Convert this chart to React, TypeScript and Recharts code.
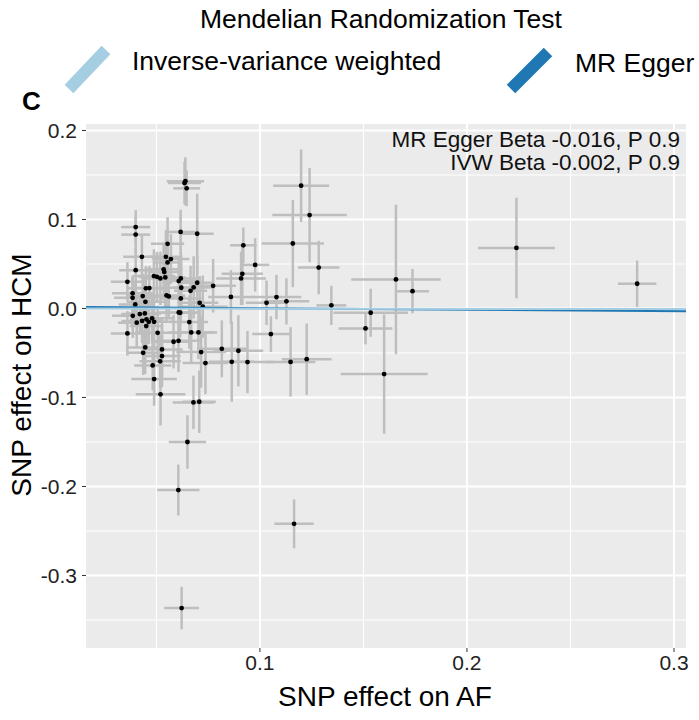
import React from "react";
import {
  ScatterChart,
  Scatter,
  XAxis,
  YAxis,
  CartesianGrid,
  ErrorBar,
} from "recharts";

// SNP effect on AF (exposure)
const betaAF = [
  0.064, 0.0636, 0.0646, 0.04, 0.04, 0.0617, 0.0697, 0.092, 0.0554, 0.043,
  0.0546, 0.057, 0.0554, 0.0977, 0.04, 0.0535, 0.0538, 0.0915, 0.0909, 0.0488,
  0.0503, 0.0519, 0.0543, 0.0618, 0.0608, 0.036, 0.0697, 0.0774, 0.0449, 0.0466,
  0.062, 0.068, 0.0665, 0.0385, 0.0385, 0.0434, 0.0549, 0.056, 0.086, 0.108,
  0.0618, 0.0447, 0.0398, 0.0709, 0.0724, 0.1032, 0.1128, 0.1345, 0.1199, 0.124,
  0.1159, 0.1284, 0.1657, 0.1737, 0.2239, 0.2822, 0.1535, 0.151, 0.16, 0.1053,
  0.1148, 0.1226, 0.0386, 0.042, 0.0444, 0.0405, 0.0431, 0.0452, 0.0463, 0.0479,
  0.0489, 0.0451, 0.0608, 0.0615, 0.0506, 0.036, 0.0659, 0.0668, 0.0703, 0.0583,
  0.0607, 0.0446, 0.0436, 0.0527, 0.0527, 0.0518, 0.0482, 0.0716, 0.0737, 0.0816,
  0.0896, 0.0864, 0.094, 0.0489, 0.052, 0.0679, 0.0707, 0.065, 0.0606, 0.1165,
  0.0622,
];

// SNP effect on HCM (outcome)
const betaHCM = [
  0.143, 0.141, 0.135, 0.0915, 0.083, 0.086, 0.084, 0.071, 0.0727, 0.058,
  0.058, 0.0555, 0.0518, 0.049, 0.043, 0.044, 0.041, 0.039, 0.0338, 0.0364,
  0.0356, 0.0338, 0.0349, 0.0338, 0.0308, 0.03, 0.0289, 0.0255, 0.0226, 0.0229,
  0.0233, 0.0237, 0.0199, 0.017, 0.012, 0.0139, 0.0147, 0.0136, 0.013, 0.0128,
  0.0113, 0.0075, 0.0046, 0.0064, 0.002, 0.0064, 0.008, 0.0035, 0.138, 0.105,
  0.073, 0.046, 0.0327, 0.0195, 0.068, 0.0278, -0.0048, -0.0224, -0.0737, -0.0288,
  -0.06, -0.057, -0.0082, -0.0063, -0.0055, -0.016, -0.014, -0.0122, -0.015, -0.0111,
  -0.015, -0.0198, -0.0044, -0.0048, -0.0273, -0.028, -0.0153, -0.0269, -0.0269, -0.0374,
  -0.0363, -0.0437, -0.0498, -0.046, -0.0535, -0.0594, -0.064, -0.049, -0.0613, -0.0453,
  -0.0475, -0.0599, -0.0602, -0.0793, -0.0965, -0.1055, -0.1048, -0.15, -0.204, -0.242,
  -0.3366,
];

const seAF = [
  0.009, 0.008, 0.0065, 0.007, 0.007, 0.007, 0.008, 0.0064, 0.008, 0.009,
  0.008, 0.009, 0.007, 0.0068, 0.008, 0.009, 0.008, 0.01, 0.012, 0.01,
  0.009, 0.008, 0.01, 0.009, 0.008, 0.008, 0.008, 0.011, 0.009, 0.008,
  0.009, 0.01, 0.008, 0.01, 0.009, 0.008, 0.009, 0.008, 0.011, 0.012,
  0.01, 0.009, 0.008, 0.009, 0.012, 0.01, 0.011, 0.0072, 0.0135, 0.018,
  0.015, 0.01, 0.0216, 0.008, 0.0186, 0.0093, 0.018, 0.013, 0.021, 0.009,
  0.012, 0.012, 0.01, 0.009, 0.008, 0.009, 0.01, 0.008, 0.009, 0.01,
  0.009, 0.008, 0.01, 0.009, 0.011, 0.008, 0.009, 0.011, 0.009, 0.009,
  0.011, 0.009, 0.008, 0.01, 0.009, 0.01, 0.009, 0.012, 0.011, 0.012,
  0.012, 0.011, 0.013, 0.011, 0.012, 0.01, 0.008, 0.009, 0.0102, 0.0095,
  0.0084,
];

const seHCM = [
  0.027, 0.024, 0.02, 0.019, 0.02, 0.025, 0.045, 0.02, 0.03, 0.025,
  0.03, 0.028, 0.025, 0.03, 0.025, 0.03, 0.025, 0.035, 0.03, 0.03,
  0.028, 0.03, 0.035, 0.03, 0.025, 0.022, 0.03, 0.03, 0.025, 0.025,
  0.03, 0.035, 0.028, 0.02, 0.022, 0.025, 0.03, 0.025, 0.03, 0.025,
  0.028, 0.03, 0.025, 0.03, 0.035, 0.025, 0.026, 0.022, 0.0407, 0.053,
  0.049, 0.03, 0.084, 0.025, 0.0565, 0.026, 0.027, 0.018, 0.067, 0.02,
  0.039, 0.04, 0.025, 0.022, 0.025, 0.028, 0.025, 0.03, 0.025, 0.028,
  0.03, 0.025, 0.03, 0.028, 0.03, 0.025, 0.03, 0.035, 0.03, 0.03,
  0.035, 0.03, 0.025, 0.03, 0.035, 0.03, 0.028, 0.04, 0.035, 0.032,
  0.04, 0.045, 0.035, 0.03, 0.035, 0.03, 0.035, 0.03, 0.0286, 0.0274,
  0.0238,
];

const xTicks = [0.1, 0.2, 0.3];
const yTicks = [-0.3, -0.2, -0.1, 0, 0.1, 0.2];
const xMinor = [0.05, 0.15, 0.25];
const yMinor = [-0.35, -0.25, -0.15, -0.05, 0.05, 0.15];

const xDomain = [0.016, 0.3058];
const yDomain = [-0.3815, 0.2073];

// fitted lines: intercept, slope
const ivwFit = { intercept: 0, slope: -0.002 };
const eggerFit = { intercept: 0.0018, slope: -0.016 };

const points = betaAF.map((x, i) => ({
  x,
  y: betaHCM[i],
  sx: seAF[i],
  sy: seHCM[i],
}));

const fitLine = (f: { intercept: number; slope: number }) =>
  xDomain.map((x) => ({ x, y: f.intercept + f.slope * x }));

const FONT = "'Liberation Sans', Arial, Helvetica, sans-serif";
const IVW_COLOR = "#a6cee3";
const EGGER_COLOR = "#1f78b4";

const Dot = (props: any) => (
  <circle cx={props.cx} cy={props.cy} r={2.4} fill="#000" />
);
const NoShape = () => <g />;

export default function App() {
  return (
    <div
      style={{
        position: "absolute",
        left: 0,
        top: 0,
        width: 699,
        height: 720,
        background: "#fff",
        fontFamily: FONT,
      }}
    >
      <ScatterChart
        width={699}
        height={720}
        margin={{ top: 124, right: 13, bottom: 0, left: 0 }}
      >
        <CartesianGrid
          fill="#ebebeb"
          stroke="#fff"
          strokeWidth={1}
          horizontalValues={yMinor}
          verticalValues={xMinor}
        />
        <CartesianGrid
          stroke="#fff"
          strokeWidth={2}
          horizontalValues={yTicks}
          verticalValues={xTicks}
        />
        <XAxis
          type="number"
          dataKey="x"
          domain={xDomain}
          ticks={xTicks}
          allowDataOverflow
          height={72}
          axisLine={false}
          tickSize={4}
          tickMargin={3}
          tickLine={{ stroke: "#333" }}
          tick={{ fontSize: 21, fill: "#222", fontFamily: FONT }}
          tickFormatter={(v) => String(v)}
        />
        <YAxis
          type="number"
          dataKey="y"
          domain={yDomain}
          ticks={yTicks}
          allowDataOverflow
          width={86}
          axisLine={false}
          tickSize={4}
          tickMargin={5}
          tickLine={{ stroke: "#333" }}
          tick={{ fontSize: 21, fill: "#222", fontFamily: FONT }}
          tickFormatter={(v) => (v === 0 ? "0.0" : String(v))}
        />
        <Scatter data={points} shape={Dot} isAnimationActive={false}>
          <ErrorBar dataKey="sx" direction="x" width={0} stroke="#bebebe" strokeWidth={2.5} />
          <ErrorBar dataKey="sy" direction="y" width={0} stroke="#bebebe" strokeWidth={2.5} />
        </Scatter>
        <Scatter
          data={fitLine(eggerFit)}
          line={{ stroke: EGGER_COLOR, strokeWidth: 2 }}
          shape={NoShape}
          isAnimationActive={false}
        />
        <Scatter
          data={fitLine(ivwFit)}
          line={{ stroke: IVW_COLOR, strokeWidth: 2 }}
          shape={NoShape}
          isAnimationActive={false}
        />
      </ScatterChart>

      <svg
        width={699}
        height={720}
        style={{ position: "absolute", left: 0, top: 0, pointerEvents: "none" }}
        fontFamily={FONT}
      >
        <text x={381} y={28} fontSize={26.5} textAnchor="middle" fill="#000">
          Mendelian Randomization Test
        </text>
        <line x1={69} y1={89} x2={106} y2={50} stroke={IVW_COLOR} strokeWidth={12} />
        <text x={132} y={70} fontSize={26.5} fill="#000">
          Inverse-variance weighted
        </text>
        <line x1={511} y1={89} x2={548} y2={52} stroke={EGGER_COLOR} strokeWidth={12} />
        <text x={575} y={72} fontSize={26.5} fill="#000">
          MR Egger
        </text>
        <text x={22} y={110} fontSize={26} fontWeight="bold" fill="#000">
          C
        </text>
        <text x={680} y={147} fontSize={22.5} textAnchor="end" fill="#111">
          MR Egger Beta -0.016, P 0.9
        </text>
        <text x={680} y={170} fontSize={22.5} textAnchor="end" fill="#111">
          IVW Beta -0.002, P 0.9
        </text>
        <text x={385} y={706} fontSize={28} textAnchor="middle" fill="#000">
          SNP effect on AF
        </text>
        <text
          x={0}
          y={0}
          fontSize={28}
          textAnchor="middle"
          fill="#000"
          transform="translate(31,375) rotate(-90)"
        >
          SNP effect on HCM
        </text>
      </svg>
    </div>
  );
}
